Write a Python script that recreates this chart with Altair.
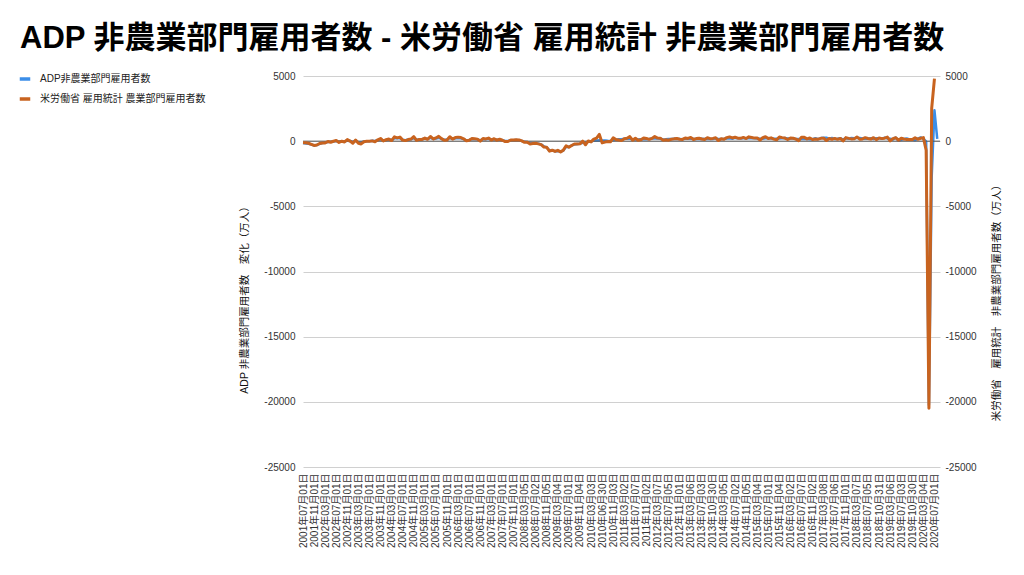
import altair as alt
import pandas as pd

FONT = "Liberation Sans, Noto Sans CJK JP"

# x-axis tick labels (every 4th month)
tick_labels = [
    "2001年07月01日", "2001年11月01日",
    "2002年03月01日", "2002年07月01日", "2002年11月01日",
    "2003年03月01日", "2003年07月01日", "2003年11月01日",
    "2004年03月01日", "2004年07月01日", "2004年11月01日",
    "2005年03月01日", "2005年07月01日", "2005年11月01日",
    "2006年03月01日", "2006年07月01日", "2006年11月01日",
    "2007年03月01日", "2007年07月01日", "2007年11月01日",
    "2008年03月05日", "2008年07月02日", "2008年11月05日",
    "2009年03月04日", "2009年07月01日", "2009年11月04日",
    "2010年03月03日", "2010年06月30日", "2010年11月03日",
    "2011年03月02日", "2011年07月07日", "2011年11月02日",
    "2012年03月07日", "2012年07月05日", "2012年11月01日",
    "2013年03月06日", "2013年07月03日", "2013年10月30日",
    "2014年03月05日", "2014年07月02日", "2014年11月05日",
    "2015年03月04日", "2015年07月01日", "2015年11月04日",
    "2016年03月02日", "2016年07月07日", "2016年11月02日",
    "2017年03月08日", "2017年07月06日", "2017年11月01日",
    "2018年03月07日", "2018年07月05日", "2018年10月31日",
    "2019年03月06日", "2019年07月03日", "2019年10月30日",
    "2020年03月04日", "2020年07月01日",
]

series_names = ["ADP非農業部門雇用者数", "米労働省 雇用統計 農業部門雇用者数"]

# ADP monthly change (thousands), monthly points
adp = [
    -150, -180, -200, -250, -330, -300, -200,
    -140, -100, -60, -50, -20, 10, -30, -10, -20, 40, 20, -60,
    20, -80, -100, -30, -10, 0, 30, 10, 80, 140, 60, 90,
    130, 80, 230, 220, 240, 110, 80, 120, 150, 230, 100, 140,
    150, 200, 160, 260, 170, 210, 250, 180, 100, 120, 250, 170,
    220, 240, 220, 160, 60, 100, 170, 150, 140, 60, 160, 150,
    180, 110, 150, 90, 120, 80, 20, 20, 70, 70, 90, 60,
    20, -50, -60, -150, -160, -170, -200, -250, -400, -480, -720, -700,
    -780, -760, -800, -720, -420, -450, -330, -250, -220, -190, -120, -130,
    -40, -20, 40, 60, 70, 50, 60, 30, 20, 80, 100, 140,
    150, 190, 180, 200, 120, 150, 130, 140, 150, 140, 170, 210,
    200, 210, 190, 130, 140, 170, 170, 190, 170, 160, 140, 200,
    190, 200, 160, 160, 170, 180, 170, 180, 160, 170, 220, 160,
    160, 170, 210, 220, 180, 250, 220, 210, 220, 230, 220, 240,
    230, 210, 180, 190, 220, 220, 200, 190, 180, 200, 220, 250,
    210, 200, 200, 160, 170, 170, 180, 170, 150, 150, 220, 150,
    240, 260, 260, 180, 240, 160, 180, 230, 120, 230, 190, 250,
    230, 240, 240, 200, 180, 180, 220, 160, 230, 230, 180, 270,
    210, 180, 130, 270, 30, 100, 160, 200, 130, 130, 70, 200,
    290, 180, -27, -20236, -2760, 2369, 167,
]

# BLS nonfarm payrolls monthly change (thousands)
nfp = [
    -129, -125, -160, -244, -325, -292, -178,
    -134, -132, -24, -85, -9, 46, -95, -4, -58, 122, 8, -156,
    84, -158, -212, -48, -7, -1, 23, -42, 101, 206, 12, 113,
    160, 46, 334, 250, 311, 80, 42, 122, 163, 349, 64, 133,
    136, 240, 142, 359, 168, 246, 370, 193, 67, 84, 339, 159,
    274, 310, 278, 182, 23, 75, 203, 182, 157, 2, 208, 171,
    238, 88, 188, 78, 144, 71, -33, -24, 88, 84, 114, 97,
    19, -86, -78, -210, -185, -165, -209, -266, -452, -473, -769, -695,
    -791, -703, -823, -687, -349, -471, -329, -213, -220, -204, -2, -275,
    14, -59, 153, 229, 521, -133, -70, -34, -52, 257, 123, 88,
    42, 188, 225, 346, 77, 225, 69, 110, 248, 209, 141, 209,
    358, 237, 233, 78, 115, 76, 143, 177, 203, 146, 132, 244,
    211, 286, 130, 197, 226, 162, 122, 261, 190, 212, 256, 46,
    190, 151, 272, 329, 246, 304, 232, 218, 286, 200, 331, 286,
    234, 238, 86, 262, 344, 206, 254, 157, 100, 321, 272, 239,
    126, 237, 225, 153, 43, 297, 291, 176, 249, 124, 164, 155,
    216, 232, 50, 207, 145, 210, 138, 208, 18, 271, 216, 175,
    176, 324, 155, 175, 268, 208, 159, 270, 118, 250, 196, 227,
    312, 20, 196, 263, 75, 224, 164, 130, 136, 128, 266, 145,
    225, 273, -701, -20500, 2509, 4800,
]

y_ticks = [-25000, -20000, -15000, -10000, -5000, 0, 5000]

df_adp = pd.DataFrame({"i": list(range(len(adp))), "v": adp, "s": series_names[0]})
df_nfp = pd.DataFrame({"i": list(range(len(nfp))), "v": nfp, "s": series_names[1]})

W, H = 637, 391
label_js = "[" + ",".join("'" + t + "'" for t in tick_labels) + "]"

x_enc = alt.X(
    "i:Q",
    scale=alt.Scale(domain=[0, 230], nice=False, zero=False),
    axis=alt.Axis(
        values=list(range(0, 4 * len(tick_labels), 4)),
        labelExpr=label_js + "[round(datum.value/4)]",
        labelAngle=270, labelFontSize=10, labelColor="#333333", labelFont=FONT,
        labelPadding=6, title=None, grid=False, ticks=False, domain=False,
        labelOverlap=False,
    ),
)

y_scale = alt.Scale(domain=[-25000, 5000], nice=False, zero=False)

color = alt.Color(
    "s:N",
    scale=alt.Scale(domain=series_names, range=["#3b8ee8", "#c8631f"]),
    legend=alt.Legend(
        title=None, orient="none", legendX=-285, legendY=-4,
        symbolType="stroke", symbolStrokeWidth=3.5, symbolSize=110,
        labelFontSize=10, labelFont=FONT, labelColor="#222222",
        rowPadding=6, labelOffset=8, labelLimit=400,
    ),
)

zero_rule = alt.Chart(pd.DataFrame({"z": [0]})).mark_rule(color="#555555", strokeWidth=1).encode(
    y=alt.Y("z:Q", scale=y_scale, axis=None)
)

blue = alt.Chart(df_adp).mark_line(strokeWidth=2.5, strokeJoin="round").encode(
    x=x_enc,
    y=alt.Y(
        "v:Q", scale=y_scale,
        axis=alt.Axis(
            values=y_ticks, labelExpr="'' + datum.value", orient="left", grid=True,
            gridColor="#d0d0d0",
            ticks=False, domain=False, labelFontSize=10, labelColor="#333333",
            labelFont=FONT, labelPadding=8,
            title="ADP 非農業部門雇用者数　変化（万人）", titleFont=FONT,
            titleFontSize=10.5, titleFontWeight="normal", titleColor="#111111",
            titleAngle=270, titleX=-59, titleY=221, titleAlign="center", titleBaseline="middle",
        ),
    ),
    color=color,
)

orange = alt.Chart(df_nfp).mark_line(strokeWidth=3, strokeJoin="round").encode(
    x=x_enc,
    y=alt.Y(
        "v:Q", scale=y_scale,
        axis=alt.Axis(
            values=y_ticks, labelExpr="'' + datum.value", orient="right", grid=False,
            ticks=False, domain=False, labelFontSize=10, labelColor="#333333",
            labelFont=FONT, labelPadding=5,
            title="米労働省　雇用統計　非農業部門雇用者数（万人）", titleFont=FONT,
            titleFontSize=10.5, titleFontWeight="normal", titleColor="#111111",
            titleAngle=270, titleX=56, titleY=224, titleAlign="center", titleBaseline="middle",
        ),
    ),
    color=color,
)

chart = (
    alt.layer(blue, zero_rule, orange)
    .resolve_scale(y="independent")
    .properties(
        width=W, height=H,
        autosize=alt.AutoSizeParams(type="none"),
        padding={"left": 295, "top": 68, "right": 76, "bottom": 100},
        title=alt.Title(
            "ADP 非農業部門雇用者数 - 米労働省 雇用統計 非農業部門雇用者数",
            anchor="start", fontSize=31, fontWeight="bold", font=FONT,
            color="#000000", dx=-283, dy=-12, frame="group",
        ),
    )
    .configure_view(stroke=None)
)

chart.save("out.html", embed_options={"renderer": "svg", "actions": False})
